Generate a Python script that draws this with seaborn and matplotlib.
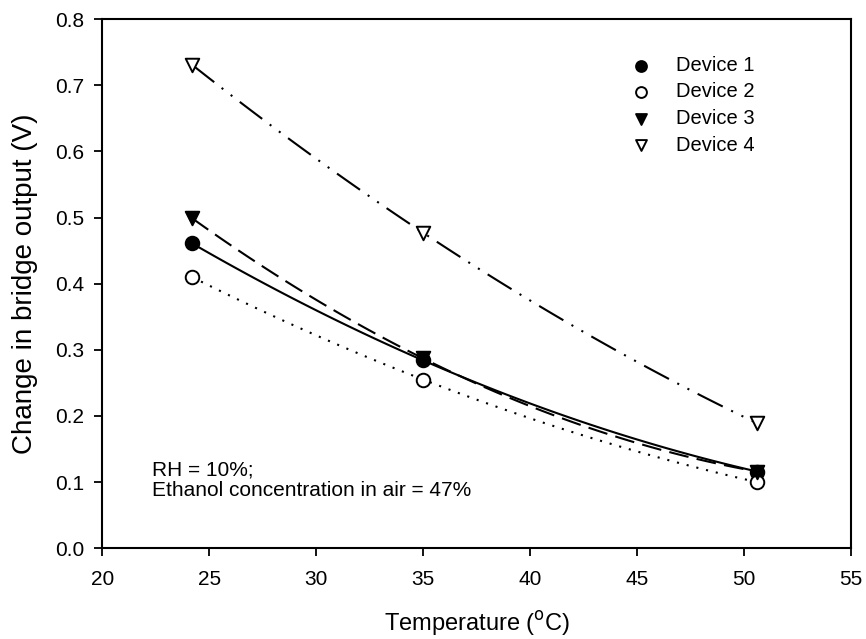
import matplotlib
matplotlib.use("Agg")
import matplotlib.pyplot as plt
import numpy as np
import pandas as pd
import seaborn as sns

# measured temperatures (deg C)
temps = [24.2, 35.0, 50.6]

# change in bridge output (V) per device
device1 = [0.461, 0.284, 0.116]
device2 = [0.410, 0.255, 0.100]
device3 = [0.499, 0.287, 0.116]
device4 = [0.731, 0.477, 0.189]

names = ["Device 1", "Device 2", "Device 3", "Device 4"]
series = [device1, device2, device3, device4]

x_ticks = [20, 25, 30, 35, 40, 45, 50, 55]
y_ticks = [0.0, 0.1, 0.2, 0.3, 0.4, 0.5, 0.6, 0.7, 0.8]

sns.set_style("ticks")
plt.rcParams["font.family"] = ["Liberation Sans", "DejaVu Sans"]
plt.rcParams["text.color"] = "black"
plt.rcParams["axes.labelcolor"] = "black"

fig = plt.figure(figsize=(8.66, 6.39), dpi=100)
ax = fig.add_axes([0.118, 0.142, 0.865, 0.828])

# marker / line style per device
markers = ["o", "o", "v", "v"]
faces = ["black", "white", "black", "white"]
styles = ["-", (0, (1, 3.8)), (0, (9.5, 4)), (0, (13.5, 4.5, 1, 4.5, 1, 4.5))]

for name, vals, mk, fc, ls in zip(names, series, markers, faces, styles):
    df = pd.DataFrame({"temp": temps, "out": vals})
    # curve through the three points (2nd order fit, as in the original)
    sns.regplot(data=df, x="temp", y="out", order=2, ci=None, ax=ax,
                marker=mk,
                scatter_kws=dict(s=95, facecolors=fc, edgecolors="black",
                                 linewidths=1.4, zorder=3, label=name, alpha=1),
                line_kws=dict(color="black", lw=1.5, linestyle=ls, zorder=2))

ax.set_xlim(20, 55)
ax.set_ylim(0, 0.8)
ax.set_xticks(x_ticks)
ax.set_yticks(y_ticks)
ax.set_yticklabels(["{:.1f}".format(v) for v in y_ticks])
ax.tick_params(direction="out", length=6, width=1.3, labelsize=15,
               colors="black")
ax.tick_params(axis="x", pad=10)
ax.tick_params(axis="y", pad=7)
for sp in ax.spines.values():
    sp.set_visible(True)
    sp.set_linewidth(1.5)
    sp.set_color("black")

ax.set_xlabel("Temperature ($^{\\mathrm{o}}$C)", fontsize=17, labelpad=14)
ax.set_ylabel("Change in bridge output (V)", fontsize=20, labelpad=12)

handles = ax.collections[:4]
ax.legend(handles=handles, labels=names, loc="upper left",
          bbox_to_anchor=(0.675, 0.965), frameon=False, fontsize=14.5,
          handlelength=1.5, handletextpad=1.0, labelspacing=0.38,
          markerscale=0.8)

ax.text(0.067, 0.165, "RH = 10%;\nEthanol concentration in air = 47%",
        transform=ax.transAxes, fontsize=15, linespacing=1.1, va="top")

fig.savefig("out.png", dpi=100)
